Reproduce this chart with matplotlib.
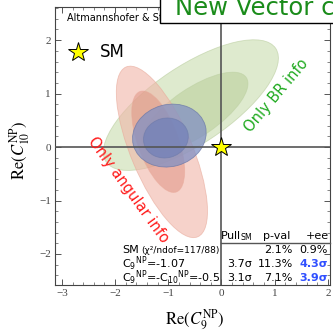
import matplotlib
matplotlib.use('Agg')
import matplotlib.pyplot as plt
import matplotlib.ticker as ticker
from matplotlib.patches import Ellipse, Rectangle

# ellipse fits: center x, center y, width, height, angle
green_x = [-0.575, -0.50]
green_y = [0.785, 0.65]
green_w = [3.83, 2.33]
green_h = [1.46, 0.90]
green_ang = [33.6, 34]

red_x = [-1.12, -1.19]
red_y = [-0.09, 0.10]
red_w = [3.45, 2.00]
red_h = [1.15, 0.77]
red_ang = [113, 110]

blue_x = [-0.98, -1.045]
blue_y = [0.215, 0.17]
blue_w = [1.40, 0.85]
blue_h = [1.16, 0.74]
blue_ang = [15, 15]

sm_point = (-2.7, 1.78)

table_head = ['Pull$_{\\rm SM}$', 'p-val', '+ee']
row_labels = ['SM', 'C$_9$$^{\\rm NP}$=-1.07', 'C$_9$$^{\\rm NP}$=-C$_{10}$$^{\\rm NP}$=-0.5']
pull = ['', '3.7σ', '3.1σ']
pval = ['2.1%', '11.3%', '7.1%']
ee = ['0.9%', '4.3σ', '3.9σ']

fig = plt.figure(figsize=(3.33, 3.32), dpi=100)
ax = fig.add_axes([55/333, 47/332, 275/333, 278/332])
ax.set_xlim(-3.13, 2.04)
ax.set_ylim(-2.58, 2.62)

def draw(xs, ys, ws, hs, angs, colors, alphas, edge):
    for i in range(len(xs)):
        ax.add_patch(Ellipse((xs[i], ys[i]), ws[i], hs[i], angle=angs[i],
                             fc=colors[i], alpha=alphas[i], ec=edge, lw=0.6))

draw(green_x, green_y, green_w, green_h, green_ang, ['#c8dcae', '#b5cc93'], [0.6, 0.5], '#b8cc9c')
draw(red_x, red_y, red_w, red_h, red_ang, ['#f0b5a8', '#e0907f'], [0.6, 0.5], '#e8a898')
draw(blue_x, blue_y, blue_w, blue_h, blue_ang, ['#8190c4', '#6a7cb8'], [0.75, 0.6], '#6a78a8')

ax.axhline(0, color='#555555', lw=1.2, zorder=3)
ax.axvline(0, color='#555555', lw=1.2, zorder=3)

ax.plot(0, 0, marker='*', ms=15, mfc='#ffff00', mec='black', mew=0.7, zorder=5)
ax.plot(*sm_point, marker='*', ms=15, mfc='#ffff00', mec='black', mew=0.7, zorder=5)
ax.text(sm_point[0] + 0.42, sm_point[1], 'SM', fontsize=12, va='center', ha='left')

ax.text(-1.76, -0.80, 'Only angular info', color='#ff1a1a', fontsize=10.5,
        rotation=-54, rotation_mode='anchor', ha='center', va='center')
ax.text(1.04, 0.97, 'Only BR info', color='#1faa1f', fontsize=10.5,
        rotation=50, rotation_mode='anchor', ha='center', va='center')

ax.text(0.044, 0.978, 'Altmannshofer & Straub', transform=ax.transAxes, fontsize=7,
        ha='left', va='top')

# table
ax.text(0.29, -1.66, table_head[0], fontsize=8, ha='center', va='center')
ax.text(1.04, -1.66, table_head[1], fontsize=8, ha='center', va='center')
ax.text(1.81, -1.66, table_head[2], fontsize=8, ha='center', va='center')
ax.plot([0, 2.04], [-1.79, -1.79], color='#555555', lw=1, zorder=3, clip_on=False)
row_y = [-1.93, -2.18, -2.44]
for i in range(3):
    ax.text(-1.87, row_y[i], row_labels[i], fontsize=8, ha='left', va='center')
    ax.text(0.57, row_y[i], pull[i], fontsize=8, ha='right', va='center')
    ax.text(1.34, row_y[i], pval[i], fontsize=8, ha='right', va='center')
    if i == 0:
        ax.text(2.0, row_y[i], ee[i], fontsize=8, ha='right', va='center')
    else:
        ax.text(2.0, row_y[i], ee[i], fontsize=8, ha='right', va='center',
                color='#2f4fff', fontweight='bold')
ax.text(-1.5, row_y[0], '(χ²/ndof=117/88)', fontsize=6.5, ha='left', va='center')

# frame + ticks
for s in ax.spines.values():
    s.set_color('#444444')
    s.set_linewidth(0.8)
ax.xaxis.set_major_locator(ticker.MultipleLocator(1))
ax.yaxis.set_major_locator(ticker.MultipleLocator(1))
ax.xaxis.set_minor_locator(ticker.MultipleLocator(0.2))
ax.yaxis.set_minor_locator(ticker.MultipleLocator(0.2))
ax.tick_params(which='both', direction='in', top=True, right=True, color='#555555')
ax.tick_params(which='major', length=4, width=0.7, labelsize=8, labelcolor='#444444', pad=3)
ax.tick_params(which='minor', length=2, width=0.5)
for lab in ax.get_xticklabels() + ax.get_yticklabels():
    lab.set_family('Liberation Serif')

fig.text(195/333, 1 - 320/332, r'$\mathrm{Re}(C_9^{\mathrm{NP}})$', fontsize=12,
         ha='center', va='center', math_fontfamily='stix')
fig.text(20/333, 1 - 150/332, r'$\mathrm{Re}(C_{10}^{\mathrm{NP}})$', fontsize=12,
         ha='center', va='center', rotation=90, math_fontfamily='stix')

# title box of the slide
fig.add_artist(Rectangle((160/333, 1 - 23/332), 0.6, 0.2, transform=fig.transFigure,
                         fc='white', ec='black', lw=1, zorder=2))
fig.text(175/333, 1 - 15/332, 'New Vector couplings', fontsize=17.5, color='#1a8c1a',
         ha='left', va='baseline', zorder=4)

fig.savefig('out.png', dpi=100)
